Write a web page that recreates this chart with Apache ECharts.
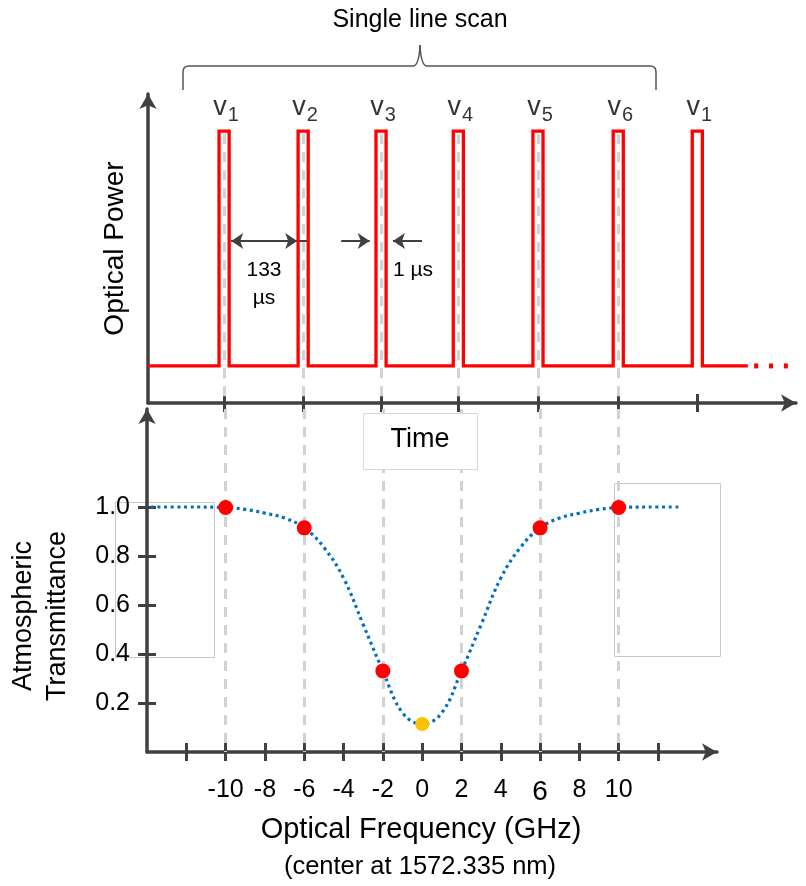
<!DOCTYPE html>
<html>
<head>
<meta charset="utf-8">
<script src="https://cdn.jsdelivr.net/npm/echarts@6.0.0/dist/echarts.min.js"></script>
<style>
  html, body { margin: 0; padding: 0; background: #fff; }
  #chart { width: 806px; height: 886px; }
</style>
</head>
<body>
<div id="chart"></div>
<script>
// --- top panel: pulse train (time in µs, power in arbitrary units) ---
const pulseTimes = [128, 261, 392, 522, 656, 791, 924];
const pulseNames = ['1', '2', '3', '4', '5', '6', '1'];
const pulseHalfWidth = 8.5;
const baseLevel = 12;
const pulseLevel = 88;
const trainStart = 0;
const trainEnd = 1009;
const ellipsisTimes = [1023, 1048, 1073];

// --- bottom panel: transmittance vs optical frequency (GHz) ---
const freqs = [-13.8, -12, -10, -9, -8, -7, -6, -5, -4, -3, -2, -1, 0, 1, 2, 3, 4, 5, 6, 7, 8, 9, 10, 12, 13.1];
const transmittance = [1.0, 1.0, 0.998, 0.99, 0.975, 0.955, 0.915, 0.835, 0.71, 0.52, 0.331, 0.16, 0.114,
                       0.16, 0.331, 0.52, 0.71, 0.835, 0.915, 0.955, 0.975, 0.99, 0.998, 1.0, 1.0];
const scanFreqs = [-10, -6, -2, 2, 6, 10];
const scanValues = [0.998, 0.915, 0.331, 0.331, 0.915, 0.998];
const centerFreq = [0];
const centerValue = [0.114];
const freqTicks = [-12, -10, -8, -6, -4, -2, 0, 2, 4, 6, 8, 10, 12];
const freqLabels = [-10, -8, -6, -4, -2, 0, 2, 4, 6, 8, 10];
const transTicks = [0.2, 0.4, 0.6, 0.8, 1.0];

const AXIS = '#404040';
const FONT = '"Liberation Sans", Arial, sans-serif';

const chart = echarts.init(document.getElementById('chart'));

// pulse train polyline
const train = [[trainStart, baseLevel]];
pulseTimes.forEach((t) => {
  train.push([t - pulseHalfWidth, baseLevel], [t - pulseHalfWidth, pulseLevel],
             [t + pulseHalfWidth, pulseLevel], [t + pulseHalfWidth, baseLevel]);
});
train.push([trainEnd, baseLevel]);

const guideTop = pulseTimes.slice(0, 6).map((t) => ({ coords: [[t, pulseLevel - 1], [t, 0]] }));
const guideBottom = scanFreqs.map((f) => ({ coords: [[f, 1.4], [f, 0]] }));

// spacing arrows (133 µs between pulses, 1 µs pulse width)
const arrowY = 52.4;
const arrows = [
  { coords: [[pulseTimes[0] + 12, arrowY], [pulseTimes[1] - 10, arrowY]] },
  { coords: [[pulseTimes[1] + 10, arrowY], [pulseTimes[0] + 12, arrowY]] },
  { coords: [[pulseTimes[2] - 67, arrowY], [pulseTimes[2] - 19, arrowY]] },
  { coords: [[pulseTimes[2] + 69, arrowY], [pulseTimes[2] + 20, arrowY]] }
];

const tickStyle = { color: AXIS, width: 3 };
const lineStyleAxis = { color: AXIS, width: 3.5 };
const braceStyle = { stroke: '#555', lineWidth: 1.5, fill: null };

function txt(x, y, text, size, rot) {
  return {
    type: 'text', z: 10, x: x, y: y, rotation: rot || 0,
    style: { text: text, font: size + 'px ' + FONT, fill: '#000', align: 'center', verticalAlign: 'middle' }
  };
}

const option = {
  animation: false,
  backgroundColor: '#fff',
  textStyle: { fontFamily: FONT },
  grid: [
    { left: 148, top: 94, width: 648, height: 309 },
    { left: 147, top: 409, width: 570, height: 343 }
  ],
  xAxis: [
    {
      gridIndex: 0, type: 'value', min: 0, max: 1090,
      axisLine: { onZero: false, lineStyle: lineStyleAxis, symbol: ['none', 'arrow'], symbolSize: [13, 15] },
      axisTick: { customValues: pulseTimes, length: 9, lineStyle: tickStyle },
      axisLabel: { show: false }, splitLine: { show: false }
    },
    {
      gridIndex: 0, type: 'value', min: 0, max: 1090, position: 'bottom',
      axisLine: { show: false, onZero: false },
      axisTick: { customValues: pulseTimes, inside: true, length: 9, lineStyle: tickStyle },
      axisLabel: { show: false }, splitLine: { show: false }
    },
    {
      gridIndex: 1, type: 'value', min: -14, max: 15,
      axisLine: { onZero: false, lineStyle: lineStyleAxis, symbol: ['none', 'arrow'], symbolSize: [13, 15] },
      axisTick: { customValues: freqTicks, length: 9, lineStyle: tickStyle },
      axisLabel: {
        customValues: freqLabels, margin: 26, fontSize: 25, color: '#000', fontFamily: FONT,
        formatter: (v) => (v === 6 ? '{b|6}' : String(v)),
        rich: { b: { fontSize: 28, color: '#000', fontFamily: FONT } }
      },
      splitLine: { show: false }
    },
    {
      gridIndex: 1, type: 'value', min: -14, max: 15, position: 'bottom',
      axisLine: { show: false, onZero: false },
      axisTick: { customValues: freqTicks, inside: true, length: 9, lineStyle: tickStyle },
      axisLabel: { show: false }, splitLine: { show: false }
    }
  ],
  yAxis: [
    {
      gridIndex: 0, type: 'value', min: 0, max: 100,
      axisLine: { onZero: false, lineStyle: lineStyleAxis, symbol: ['none', 'arrow'], symbolSize: [13, 15] },
      axisTick: { show: false }, axisLabel: { show: false }, splitLine: { show: false },
      name: 'Optical Power', nameLocation: 'middle', nameGap: 19, nameRotate: 90,
      nameTextStyle: { fontSize: 28, color: '#000', fontFamily: FONT }
    },
    {
      gridIndex: 1, type: 'value', min: 0, max: 1.4,
      axisLine: { onZero: false, lineStyle: lineStyleAxis, symbol: ['none', 'arrow'], symbolSize: [13, 15] },
      axisTick: { customValues: transTicks, length: 9, lineStyle: tickStyle },
      axisLabel: {
        customValues: transTicks, margin: 17, fontSize: 25, color: '#000', fontFamily: FONT,
        formatter: (v) => v.toFixed(1)
      },
      splitLine: { show: false }
    },
    {
      gridIndex: 1, type: 'value', min: 0, max: 1.4, position: 'left',
      axisLine: { show: false, onZero: false },
      axisTick: { customValues: transTicks, inside: true, length: 9, lineStyle: tickStyle },
      axisLabel: { show: false }, splitLine: { show: false }
    }
  ],
  series: [
    {
      type: 'lines', coordinateSystem: 'cartesian2d', xAxisIndex: 0, yAxisIndex: 0,
      data: guideTop, symbol: 'none', silent: true,
      lineStyle: { color: '#d2d2d2', width: 3, type: [10, 8], opacity: 1 }
    },
    {
      type: 'lines', coordinateSystem: 'cartesian2d', xAxisIndex: 2, yAxisIndex: 1,
      data: guideBottom, symbol: 'none', silent: true,
      lineStyle: { color: '#d2d2d2', width: 3, type: [10, 8], opacity: 1 }
    },
    {
      type: 'line', xAxisIndex: 0, yAxisIndex: 0, data: train, symbol: 'none',
      lineStyle: { color: '#ff0000', width: 3.3, join: 'miter' }
    },
    {
      type: 'scatter', xAxisIndex: 0, yAxisIndex: 0,
      data: ellipsisTimes.map((t) => [t, baseLevel]),
      symbol: 'rect', symbolSize: [4, 5], itemStyle: { color: '#ff0000', opacity: 1 }
    },
    {
      type: 'scatter', xAxisIndex: 0, yAxisIndex: 0, symbolSize: 0,
      data: pulseTimes.map((t, i) => ({ value: [t, pulseLevel], name: pulseNames[i] })),
      label: {
        show: true, position: 'inside', offset: [2, -24],
        formatter: (p) => '{v|v}{s|' + p.name + '}',
        rich: {
          v: { fontSize: 27, color: '#000', fontFamily: FONT },
          s: { fontSize: 20, color: '#000', fontFamily: FONT, padding: [16, 0, 0, 1] }
        }
      }
    },
    {
      type: 'lines', coordinateSystem: 'cartesian2d', xAxisIndex: 0, yAxisIndex: 0,
      data: arrows, symbol: ['none', 'arrow'], symbolSize: [11, 12], silent: true,
      lineStyle: { color: AXIS, width: 2, opacity: 1 }
    },
    {
      type: 'line', xAxisIndex: 2, yAxisIndex: 1,
      data: freqs.map((f, i) => [f, transmittance[i]]),
      smooth: 0.4, symbol: 'none',
      lineStyle: { color: '#0070c0', width: 3.2, type: [3, 3.6], cap: 'butt' }
    },
    {
      type: 'scatter', xAxisIndex: 2, yAxisIndex: 1,
      data: scanFreqs.map((f, i) => [f, scanValues[i]]),
      symbolSize: 15, itemStyle: { color: '#ff0000', opacity: 1 }, z: 5
    },
    {
      type: 'scatter', xAxisIndex: 2, yAxisIndex: 1,
      data: centerFreq.map((f, i) => [f, centerValue[i]]),
      symbolSize: 14, itemStyle: { color: '#ffc000', opacity: 1 }, z: 5
    }
  ],
  graphic: {
    elements: [
      { type: 'rect', z: 0, shape: { x: 115.5, y: 502.5, width: 99, height: 155 },
        style: { fill: null, stroke: '#c8c8c8', lineWidth: 1 } },
      { type: 'rect', z: 0, shape: { x: 614.5, y: 483.5, width: 106, height: 173 },
        style: { fill: null, stroke: '#c8c8c8', lineWidth: 1 } },
      // curly brace over the scan
      { type: 'line', z: 10, shape: { x1: 183, y1: 90, x2: 183, y2: 72 }, style: braceStyle },
      { type: 'bezierCurve', z: 10, shape: { x1: 183, y1: 72, x2: 189, y2: 66, cpx1: 183, cpy1: 66 }, style: braceStyle },
      { type: 'line', z: 10, shape: { x1: 189, y1: 66, x2: 413, y2: 66 }, style: braceStyle },
      { type: 'bezierCurve', z: 10, shape: { x1: 413, y1: 66, x2: 420, y2: 45, cpx1: 419, cpy1: 66 }, style: braceStyle },
      { type: 'bezierCurve', z: 10, shape: { x1: 420, y1: 45, x2: 427, y2: 66, cpx1: 421, cpy1: 66 }, style: braceStyle },
      { type: 'line', z: 10, shape: { x1: 427, y1: 66, x2: 650, y2: 66 }, style: braceStyle },
      { type: 'bezierCurve', z: 10, shape: { x1: 650, y1: 66, x2: 656, y2: 72, cpx1: 656, cpy1: 66 }, style: braceStyle },
      { type: 'line', z: 10, shape: { x1: 656, y1: 72, x2: 656, y2: 90 }, style: braceStyle },
      txt(420, 20, 'Single line scan', 25),
      txt(264, 270, '133', 21),
      txt(264, 298, 'µs', 21),
      txt(413, 270, '1 µs', 21),
      { type: 'rect', z: 100, shape: { x: 363.5, y: 413.5, width: 114, height: 56 },
        style: { fill: '#fff', stroke: '#d9d9d9', lineWidth: 1 } },
      Object.assign(txt(420, 440, 'Time', 27), { z: 101 }),
      txt(24, 616, 'Atmospheric', 27, Math.PI / 2),
      txt(58, 616, 'Transmittance', 27, Math.PI / 2),
      txt(421, 830, 'Optical Frequency (GHz)', 29),
      txt(420, 867, '(center at 1572.335 nm)', 25.5)
    ]
  }
};

chart.setOption(option);
</script>
</body>
</html>
